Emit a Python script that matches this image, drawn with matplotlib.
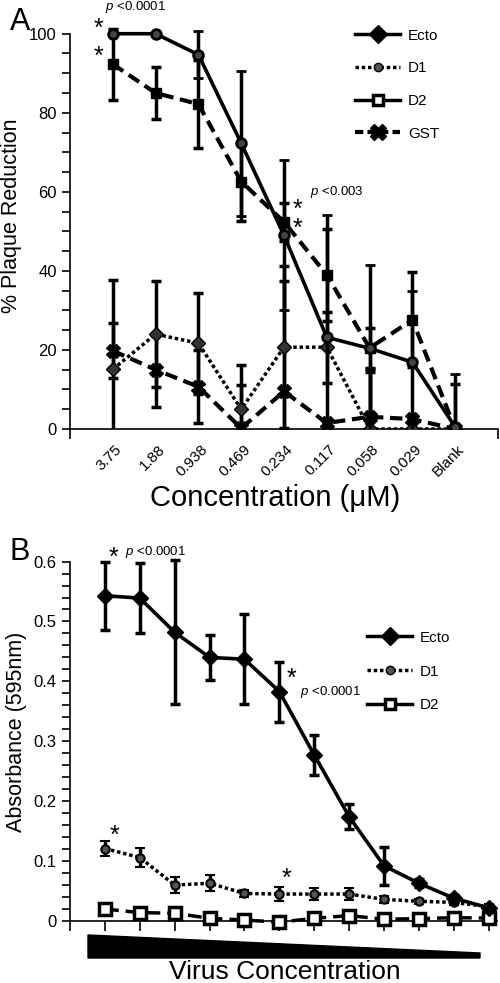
import matplotlib
matplotlib.use("Agg")
import matplotlib.pyplot as plt
from matplotlib.lines import Line2D
from matplotlib.patches import Polygon
from matplotlib.transforms import ScaledTranslation

plt.rcParams['font.family'] = ['Liberation Sans', 'DejaVu Sans']
plt.rcParams['mathtext.fontset'] = 'custom'
plt.rcParams['mathtext.it'] = 'Liberation Sans:italic'
plt.rcParams['mathtext.rm'] = 'Liberation Sans'

# ---- panel A data: % plaque reduction vs concentration
conc_labels = ['3.75', '1.88', '0.938', '0.469', '0.234', '0.117', '0.058', '0.029', 'Blank']
ecto_a = [100, 100, 94.7, 72.3, 49, 23.2, 20.4, 16.9, 0.5]
ecto_a_err = [0, 0, 6, 18.3, 19, 31, 21, 18, 13.4]
d1_a = [15.1, 24, 21.7, 5, 20.7, 20.7, 0, 0, 0]
d1_a_err = [22.5, 13.5, 12.8, 11.2, 20.5, 9, 14.5, 0, 0]
d2_a = [92.3, 85, 82.2, 62.6, 52.4, 39, 20.5, 27.6, 0]
d2_a_err = [9, 6.6, 11.2, 10, 4.8, 11.6, 5, 12, 11.4]
gst_a = [19.8, 15, 10.7, 0.2, 9.5, 1.5, 3.1, 2.5, 0]
gst_a_err = [7, 9.4, 9.3, 11, 28, 0, 12, 0, 0]

# ---- panel B data: absorbance vs virus concentration (12 dilutions)
ecto_b = [0.543, 0.539, 0.482, 0.440, 0.437, 0.383, 0.277, 0.174, 0.092, 0.063, 0.038, 0.022]
ecto_b_err = [0.057, 0.059, 0.12, 0.037, 0.075, 0.05, 0.033, 0.021, 0.032, 0.007, 0.005, 0.004]
d1_b = [0.121, 0.106, 0.060, 0.063, 0.046, 0.045, 0.045, 0.045, 0.036, 0.033, 0.031, 0.024]
d1_b_err = [0.013, 0.016, 0.013, 0.013, 0.006, 0.012, 0.01, 0.01, 0.006, 0.004, 0.004, 0.004]
d2_b = [0.020, 0.014, 0.013, 0.0045, 0.0017, -0.002, 0.0045, 0.009, 0.003, 0.004, 0.0055, 0.005]
d2_b_err = [0.005, 0.005, 0.005, 0.004, 0.004, 0.004, 0.004, 0.006, 0.004, 0.004, 0.004, 0.004]

W, H = 500, 983


def fx(x):
    return x / W


def fy(y):
    return 1 - y / H


fig = plt.figure(figsize=(5, 9.83), dpi=100)

eb = dict(ecolor='black', elinewidth=2.5, capsize=3.6, capthick=2.5)

# ================= Panel A =================
axA = fig.add_axes([fx(70), fy(429), (498 - 70) / W, (429 - 2.1) / H])
xa = list(range(1, len(conc_labels) + 1))

axA.errorbar(xa, gst_a, yerr=gst_a_err, color='black', lw=3, ls=(0, (3, 1.6)),
             marker='X', ms=10, mfc='black', mec='black', zorder=3, **eb)
axA.errorbar(xa, d1_a, yerr=d1_a_err, color='black', lw=2.5, ls=(0, (1, 0.8)),
             marker='D', ms=7, mfc='#333333', mec='black', zorder=3, **eb)
axA.errorbar(xa, d2_a, yerr=d2_a_err, color='black', lw=3, ls=(0, (3, 1.6)),
             marker='s', ms=7, mfc='black', mec='black', zorder=4, **eb)
axA.errorbar(xa, ecto_a, yerr=ecto_a_err, color='black', lw=2.6, ls='-',
             marker='o', ms=7, mfc='#444444', mec='black', mew=2, zorder=5, **eb)

axA.set_xlim(0, 10)
axA.set_ylim(0, 108)
axA.spines['left'].set_bounds(0, 100)
axA.spines['right'].set_visible(False)
axA.spines['top'].set_visible(False)
for s in ('left', 'bottom'):
    axA.spines[s].set_linewidth(1.2)
axA.set_yticks([0, 20, 40, 60, 80, 100])
axA.set_yticks(range(0, 101, 5), minor=True)
axA.set_xticks(xa)
axA.set_xticklabels(conc_labels, rotation=45, ha='right', va='center',
                    rotation_mode='anchor', fontsize=11)
axA.set_xticks([0, 10], minor=True)
axA.tick_params(axis='x', which='major', length=0, pad=13)
axA.tick_params(axis='x', which='minor', length=7, width=1.2, direction='out')
axA.tick_params(axis='y', which='both', length=6, width=1.2, direction='out', labelsize=12)
axA.set_ylabel('% Plaque Reduction', fontsize=15.5, labelpad=5)
axA.set_xlabel('Concentration (\u03bcM)', fontsize=21)
axA.xaxis.set_label_coords(0.48, -0.128)

legA = [
    Line2D([], [], color='black', lw=2.5, marker='D', ms=9, mfc='black'),
    Line2D([], [], color='black', lw=2.5, ls=(0, (1, 0.8)), marker='o', ms=6, mfc='#555555'),
    Line2D([], [], color='black', lw=2.5, marker='s', ms=7, mfc='white', mew=2.5),
    Line2D([], [], color='black', lw=3, ls=(0, (2, 1)), marker='X', ms=11, mfc='black'),
]
axA.legend(legA, ['Ecto', 'D1', 'D2', 'GST'], loc='upper left', frameon=False,
           bbox_to_anchor=(fx(347), fy(21)), bbox_transform=fig.transFigure,
           fontsize=11, handlelength=3, labelspacing=1.22, borderpad=0,
           handletextpad=0.5)

fig.text(fx(10), fy(22), 'A', fontsize=22, va='center', ha='left')
fig.text(fx(98), fy(29), '*', fontsize=18, va='center', ha='center')
fig.text(fx(98), fy(57), '*', fontsize=18, va='center', ha='center')
fig.text(fx(105), fy(7), r'$\it{p}$ <0.0001', fontsize=9.5, va='center', ha='left')
fig.text(fx(297), fy(219), '*\n*', fontsize=18, va='center', ha='center', linespacing=0.75)
fig.text(fx(310), fy(192), r'$\it{p}$ <0.003', fontsize=9.5, va='center', ha='left')

# ================= Panel B =================
axB = fig.add_axes([fx(70), fy(927), (497.5 - 70) / W, (927 - 537.6) / H])
xb = list(range(1, len(ecto_b) + 1))

axB.errorbar(xb, d2_b, yerr=d2_b_err, color='black', lw=2.5, ls=(0, (4, 2)),
             marker='s', ms=8, mfc='white', mec='black', mew=2.5, zorder=3, clip_on=False, **eb)
axB.errorbar(xb, d1_b, yerr=d1_b_err, color='black', lw=2.5, ls=(0, (1, 0.8)),
             marker='o', ms=6, mfc='#555555', mec='black', mew=1.5, zorder=4, clip_on=False, **eb)
axB.errorbar(xb, ecto_b, yerr=ecto_b_err, color='black', lw=2.6, ls='-',
             marker='D', ms=8, mfc='black', mec='black', zorder=5, clip_on=False, **eb)

axB.set_xlim(0, 12.25)
axB.set_ylim(-0.01, 0.64)
axB.spines['left'].set_bounds(0, 0.6)
axB.spines['bottom'].set_position(('data', 0))
axB.spines['right'].set_visible(False)
axB.spines['top'].set_visible(False)
for s in ('left', 'bottom'):
    axB.spines[s].set_linewidth(1.2)
axB.set_yticks([0, 0.1, 0.2, 0.3, 0.4, 0.5, 0.6])
axB.set_yticklabels(['0', '0.1', '0.2', '0.3', '0.4', '0.5', '0.6'])
axB.set_yticks([i * 0.02 for i in range(31)], minor=True)
axB.set_xticks([0] + xb)
axB.set_xticklabels([])
axB.tick_params(axis='x', which='major', length=7, width=1.2, direction='out')
axB.tick_params(axis='y', which='both', length=6, width=1.2, direction='out', labelsize=12)
axB.set_ylabel('Absorbance (595nm)', fontsize=15.5, labelpad=5)

legB = [
    Line2D([], [], color='black', lw=2.5, marker='D', ms=9, mfc='black'),
    Line2D([], [], color='black', lw=2.5, ls=(0, (1, 0.8)), marker='o', ms=6, mfc='#555555'),
    Line2D([], [], color='black', lw=2.5, marker='s', ms=7, mfc='white', mew=2.5),
]
axB.legend(legB, ['Ecto', 'D1', 'D2'], loc='upper left', frameon=False,
           bbox_to_anchor=(fx(359), fy(623)), bbox_transform=fig.transFigure,
           fontsize=11, handlelength=3, labelspacing=1.3, borderpad=0,
           handletextpad=0.5)

fig.text(fx(10), fy(552), 'B', fontsize=22, va='center', ha='left')
fig.text(fx(113), fy(558), '*', fontsize=18, va='center', ha='center')
fig.text(fx(125), fy(552), r'$\it{p}$ <0.0001', fontsize=9.5, va='center', ha='left')
fig.text(fx(291), fy(679), '*', fontsize=18, va='center', ha='center')
fig.text(fx(300), fy(692), r'$\it{p}$ <0.0001', fontsize=9.5, va='center', ha='left')
fig.text(fx(114), fy(836), '*', fontsize=18, va='center', ha='center')
fig.text(fx(286), fy(879), '*', fontsize=18, va='center', ha='center')

# wedge showing decreasing virus concentration
wedge = Polygon([(fx(88), fy(935)), (fx(480), fy(953)), (fx(480), fy(958)), (fx(88), fy(958))],
                closed=True, transform=fig.transFigure, color='black')
fig.patches.append(wedge)
fig.text(fx(285), fy(979), 'Virus Concentration', fontsize=19, va='baseline', ha='center')

# nudge rotated concentration labels so their ends sit just right of each point
shift = ScaledTranslation(5 / 72, 0, fig.dpi_scale_trans)
for lab in axA.get_xticklabels():
    lab.set_transform(lab.get_transform() + shift)

fig.savefig('out.png', dpi=100)
